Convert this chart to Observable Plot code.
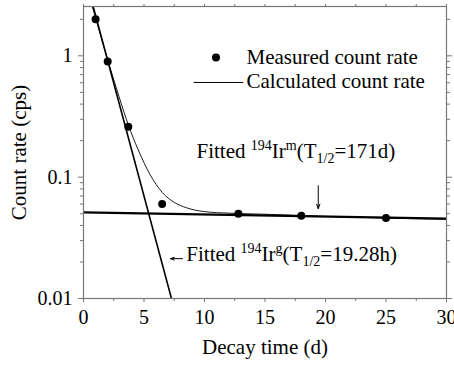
<!DOCTYPE html>
<html>
<head>
<meta charset="utf-8">
<script src="https://cdn.jsdelivr.net/npm/d3@7"></script>
<script src="https://cdn.jsdelivr.net/npm/@observablehq/plot@0.6"></script>
<style>
  html, body { margin: 0; padding: 0; background: #fff; }
</style>
</head>
<body>
<div id="chart"></div>
<script>
// Measured count rate (decay time in days, count rate in cps)
const measuredT = [1.0, 2.0, 3.7, 6.5, 12.8, 18.0, 25.0];
const measuredR = [2.0, 0.9, 0.26, 0.06, 0.05, 0.048, 0.046];

// Calculated count rate curve
const calcT = [0.7, 1.0, 2.0, 3.0, 3.7, 4.5, 5.5, 6.5, 7.5, 8.5, 10, 12, 15, 20, 25, 30];
const calcR = [2.6, 2.05, 0.93, 0.44, 0.27, 0.17, 0.105, 0.075, 0.062, 0.056, 0.052, 0.0505, 0.0495, 0.0475, 0.046, 0.045];

// Fitted 194Ir-m line (T1/2 = 171 d)
const fitMT = [0, 30];
const fitMR = [0.0513, 0.0455];

// Fitted 194Ir-g line (T1/2 = 19.28 h)
const fitGT = [0.8, 7.27];
const fitGR = [2.55, 0.01];

// Axis ticks
const xTicks = [0, 5, 10, 15, 20, 25, 30];
const xMinor = [2.5, 7.5, 12.5, 17.5, 22.5, 27.5];
const yTicks = [0.01, 0.1, 1];
const yTickLabels = ["0.01", "0.1", "1"];
const yMinor = [0.02, 0.03, 0.04, 0.05, 0.06, 0.07, 0.08, 0.09, 0.2, 0.3, 0.4, 0.5, 0.6, 0.7, 0.8, 0.9, 2];

// Legend & annotations
const legendLabels = ["Measured count rate", "Calculated count rate"];
const annotations = [
  {t: 9.34, r: 0.164, text: "Fitted ^{194}Ir^{m}(T_{1/2}=171d)"},
  {t: 8.5, r: 0.023, text: "Fitted ^{194}Ir^{g}(T_{1/2}=19.28h)"}
];

const measured = measuredT.map((t, i) => ({t, r: measuredR[i]}));
const calc = calcT.map((t, i) => ({t, r: calcR[i]}));
const fitM = fitMT.map((t, i) => ({t, r: fitMR[i]}));
const fitG = fitGT.map((t, i) => ({t, r: fitGR[i]}));

const axisColor = "#777";
const font = "Liberation Serif, Times New Roman, serif";
const none = () => "";

const chart = Plot.plot({
  width: 454,
  height: 369,
  marginLeft: 83,
  marginRight: 8,
  marginTop: 6,
  marginBottom: 71,
  style: {fontFamily: font, fontSize: "20px", background: "#fff", color: "#000"},
  x: {domain: [0, 30]},
  y: {type: "log", domain: [0.01, 2.55]},
  marks: [
    // lines
    Plot.line(fitM, {x: "t", y: "r", stroke: "#000", strokeWidth: 2.2, clip: true}),
    Plot.line(fitG, {x: "t", y: "r", stroke: "#000", strokeWidth: 1.6, clip: true}),
    Plot.line(calc, {x: "t", y: "r", stroke: "#000", strokeWidth: 0.9, curve: "monotone-x", clip: true}),
    Plot.dot(measured, {x: "t", y: "r", r: 4, fill: "#000", stroke: "none"}),
    // legend
    Plot.dot([{t: 10.95, r: 0.97}], {x: "t", y: "r", r: 4, fill: "#000", stroke: "none"}),
    Plot.link([{t1: 9.1, t2: 13.2, r: 0.603}], {x1: "t1", x2: "t2", y1: "r", y2: "r", stroke: "#000", strokeWidth: 1}),
    Plot.text([{t: 13.47, r: 0.97, s: legendLabels[0]}, {t: 13.47, r: 0.616, s: legendLabels[1]}],
      {x: "t", y: "r", text: "s", textAnchor: "start", fontSize: 21, fill: "#000"}),
    // annotations
    Plot.text(annotations, {x: "t", y: "r", text: "text", textAnchor: "start", fontSize: 21, fill: "#000", className: "rich"}),
    Plot.arrow([{t: 19.4, r1: 0.085, r2: 0.055}], {x1: "t", x2: "t", y1: "r1", y2: "r2", stroke: "#000", strokeWidth: 1, headLength: 7, headAngle: 40}),
    Plot.arrow([{t1: 8.18, t2: 7.19, r: 0.0213}], {x1: "t1", x2: "t2", y1: "r", y2: "r", stroke: "#000", strokeWidth: 1, headLength: 7, headAngle: 40}),
    // frame & axes
    Plot.frame({stroke: axisColor, strokeWidth: 1.2}),
    Plot.axisX({ticks: xTicks, tickSize: 4, tickPadding: 7, stroke: axisColor, fill: "#000", fontSize: 20,
      label: "Decay time (d)", labelAnchor: "center", labelOffset: 55, labelArrow: "none"}),
    Plot.axisX({ticks: xMinor, tickSize: 3, tickFormat: none, stroke: axisColor, label: null}),
    Plot.axisX({anchor: "top", ticks: xTicks.concat(xMinor), tickSize: 3, tickFormat: none, stroke: axisColor, label: null}),
    Plot.axisY({ticks: yTicks, tickSize: 5, tickPadding: 6, tickFormat: d => yTickLabels[yTicks.indexOf(d)] ?? String(d),
      stroke: axisColor, fill: "#000", fontSize: 20,
      label: "Count rate (cps)", labelAnchor: "center", labelOffset: 72, labelArrow: "none"}),
    Plot.axisY({ticks: yMinor, tickSize: 3, tickFormat: none, stroke: axisColor, label: null}),
    Plot.axisY({anchor: "right", ticks: yTicks, tickSize: 5, tickFormat: none, stroke: axisColor, label: null}),
    Plot.axisY({anchor: "right", ticks: yMinor, tickSize: 3, tickFormat: none, stroke: axisColor, label: null})
  ]
});

// Convert ^{..} and _{..} markup into tspans
d3.select(chart).selectAll(".rich text").each(function() {
  const el = this;
  const str = el.textContent;
  el.textContent = "";
  const parts = str.split(/(\^\{[^}]*\}|_\{[^}]*\})/).filter(p => p.length);
  let cur = 0;
  for (const p of parts) {
    let target = 0, txt = p, small = false;
    if (p.startsWith("^{")) { target = -8; txt = p.slice(2, -1); small = true; }
    else if (p.startsWith("_{")) { target = 5; txt = p.slice(2, -1); small = true; }
    const ts = d3.select(el).append("tspan").text(txt).attr("dy", target - cur);
    if (small) ts.attr("font-size", 14);
    cur = target;
  }
});

// remove empty tick label texts of minor axes
d3.select(chart).selectAll("text").filter(function() { return this.textContent === ""; }).remove();

// axis label fonts
d3.select(chart).selectAll("text").filter(function() {
  return this.textContent === "Decay time (d)" || this.textContent === "Count rate (cps)";
}).attr("font-size", 21);

document.getElementById("chart").appendChild(chart);
</script>
</body>
</html>
